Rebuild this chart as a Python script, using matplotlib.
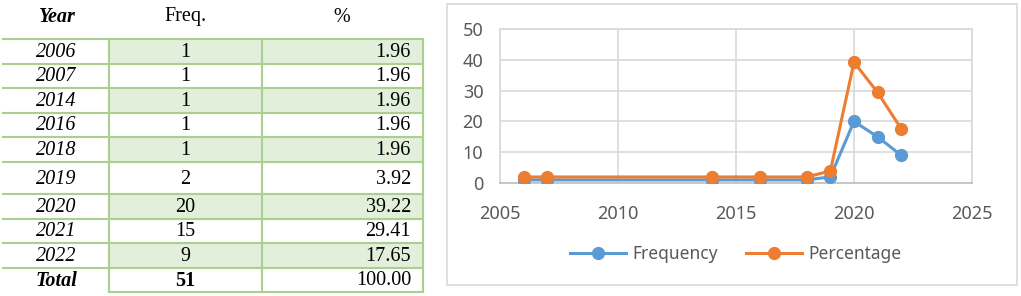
import matplotlib
matplotlib.use("Agg")
import matplotlib.pyplot as plt
import matplotlib.patches as patches

# data
years = [2006, 2007, 2014, 2016, 2018, 2019, 2020, 2021, 2022]
freq = [1, 1, 1, 1, 1, 2, 20, 15, 9]
pct = [1.96, 1.96, 1.96, 1.96, 1.96, 3.92, 39.22, 29.41, 17.65]
total_freq = 51
total_pct = 100.00
header = ["Year", "Freq.", "%"]

W, H = 1021, 296
fig = plt.figure(figsize=(W / 100, H / 100), dpi=100)
fig.patch.set_facecolor("white")

# ---- table (drawn in pixel coordinates) ----
tab = fig.add_axes([0, 0, 1, 1])
tab.set_xlim(0, W)
tab.set_ylim(H, 0)
tab.axis("off")

green_line = "#A9D08E"
green_fill = "#E2EFDA"
serif = "Liberation Serif"
fs = 14.5

col_x = [3, 109, 262, 423]
bounds = [39, 63.5, 88, 112.5, 137, 162, 194, 218.5, 243, 267.5, 292]

# header
tab.text(57, 17, header[0], ha="center", va="center", family=serif,
         fontsize=fs, fontweight="bold", style="italic")
tab.text(185, 17, header[1], ha="center", va="center", family=serif, fontsize=fs)
tab.text(342, 17, header[2], ha="center", va="center", family=serif, fontsize=fs)

for i, (yr, f, p) in enumerate(zip(years, freq, pct)):
    y0, y1 = bounds[i], bounds[i + 1]
    yc = (y0 + y1) / 2 + 1
    if i % 2 == 0:
        tab.add_patch(patches.Rectangle((col_x[1], y0), col_x[3] - col_x[1], y1 - y0,
                                        facecolor=green_fill, edgecolor="none", zorder=0))
    tab.text(56, yc, str(yr), ha="center", va="center", family=serif,
             fontsize=fs, style="italic")
    tab.text(185, yc, str(f), ha="center", va="center", family=serif, fontsize=fs)
    tab.text(411, yc, f"{p:.2f}", ha="right", va="center", family=serif, fontsize=fs)

# total row
y0, y1 = bounds[-2], bounds[-1]
yc = (y0 + y1) / 2 + 1
tab.text(56, yc, "Total", ha="center", va="center", family=serif, fontsize=fs,
         fontweight="bold", style="italic")
tab.text(185, yc, str(total_freq), ha="center", va="center", family=serif,
         fontsize=fs, fontweight="bold")
tab.text(411, yc, f"{total_pct:.2f}", ha="right", va="center", family=serif, fontsize=fs)

# borders
for b in bounds[:-1]:
    tab.plot([col_x[0], col_x[3]], [b, b], color=green_line, lw=1.5, zorder=1)
tab.plot([col_x[1], col_x[3]], [bounds[-1], bounds[-1]], color=green_line, lw=1.5, zorder=1)
for cx in col_x[1:]:
    tab.plot([cx, cx], [bounds[0], bounds[-1]], color=green_line, lw=1.5, zorder=1)

# chart frame
tab.add_patch(patches.Rectangle((447, 4), 570, 281, facecolor="white",
                                edgecolor="#D9D9D9", lw=1.2, zorder=0))

# ---- line chart ----
ax = fig.add_axes([500 / W, 1 - 183 / H, 472 / W, 154 / H])
blue = "#5B9BD5"
orange = "#ED7D31"
ax.plot(years, freq, color=blue, lw=2.2, marker="o", markersize=8.5,
        label="Frequency", zorder=3)
ax.plot(years, pct, color=orange, lw=2.2, marker="o", markersize=8.5,
        label="Percentage", zorder=4)

ax.set_xlim(2005, 2025)
ax.set_ylim(0, 50)
ax.set_xticks(range(2005, 2026, 5))
ax.set_yticks(range(0, 51, 10))
ax.grid(True, color="#D9D9D9", lw=1.2)
ax.set_axisbelow(True)
for s in ax.spines.values():
    s.set_color("#D9D9D9")
    s.set_linewidth(1.2)
ax.spines["bottom"].set_color("#BFBFBF")
ax.tick_params(length=0, labelsize=13, labelcolor="#595959")
ax.tick_params(axis="y", pad=12)
ax.tick_params(axis="x", pad=16)
for lab in ax.get_xticklabels() + ax.get_yticklabels():
    lab.set_family("Noto Sans")

leg = ax.legend(loc="center", bbox_to_anchor=(736 / W, 1 - 254 / H),
                bbox_transform=fig.transFigure, ncol=2, frameon=False,
                handlelength=3.2, columnspacing=1.6, handletextpad=0.4,
                prop={"family": "Noto Sans", "size": 12.5})
for t in leg.get_texts():
    t.set_color("#595959")

fig.savefig("out.png", dpi=100, facecolor="white")
